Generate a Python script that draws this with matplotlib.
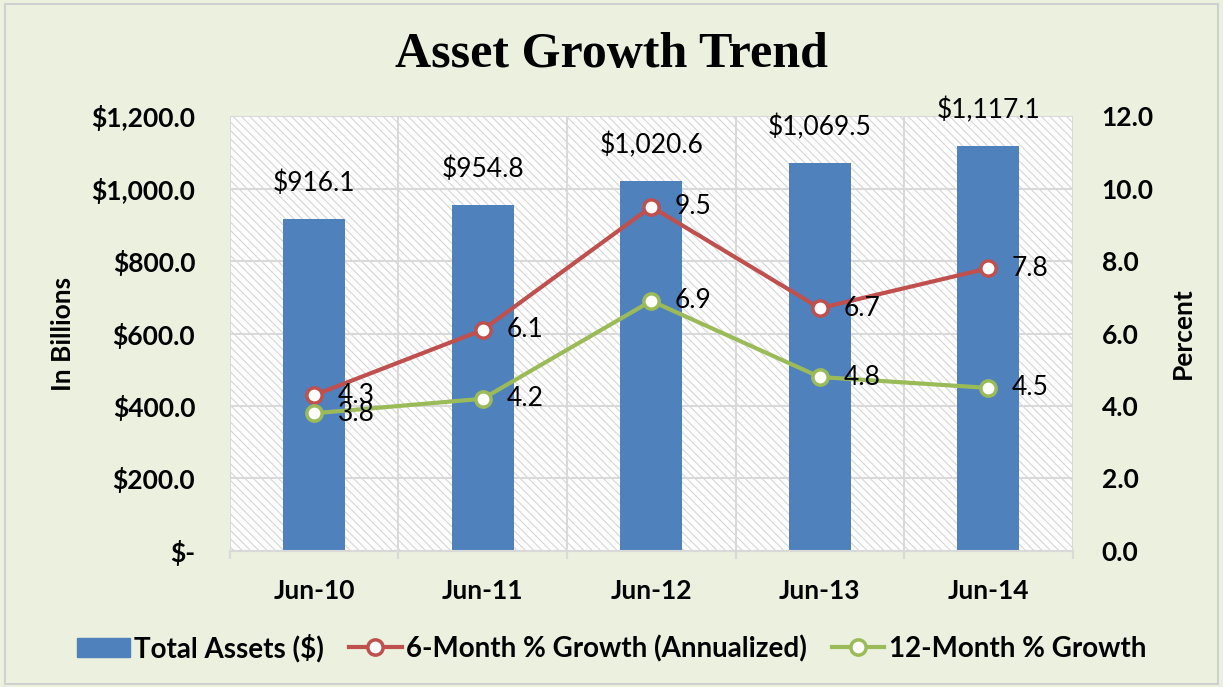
import matplotlib.pyplot as plt
from matplotlib.patches import Rectangle
from matplotlib.lines import Line2D
import numpy as np

# chart data
periods = ['Jun-10', 'Jun-11', 'Jun-12', 'Jun-13', 'Jun-14']
total_assets = [916.1, 954.8, 1020.6, 1069.5, 1117.1]
growth_6m = [4.3, 6.1, 9.5, 6.7, 7.8]
growth_12m = [3.8, 4.2, 6.9, 4.8, 4.5]

blue = '#4F81BD'
red = '#C0504D'
green = '#9BBB59'
bg = '#EBF1DE'
grid_col = '#D9D9D9'
sans = ['Lato', 'DejaVu Sans']
fs = 19

plt.rcParams['hatch.linewidth'] = 0.8

fig = plt.figure(figsize=(12.23, 6.87), dpi=100, facecolor=bg)
fig.patches.append(Rectangle((0.004, 0.004), 0.992, 0.99, transform=fig.transFigure,
                             fill=False, edgecolor='#D0D0D0', linewidth=1.5))

ax = fig.add_axes([0.188, 0.198, 0.689, 0.633])
ax.set_facecolor('white')
ax.add_patch(Rectangle((0, 0), 1, 1, transform=ax.transAxes, facecolor='none',
                       edgecolor='#D6D6D6', hatch='\\\\\\\\', linewidth=0, zorder=0))

x = np.arange(len(periods))
ax.bar(x, total_assets, width=0.37, color=blue, zorder=2)
for xi, v in zip(x, total_assets):
    ax.annotate(f'${v:,.1f}', (xi, v), xytext=(0, 26), textcoords='offset points',
                ha='center', va='center', fontsize=fs, family=sans)

ax.set_xlim(-0.5, len(periods) - 0.5)
ax.set_ylim(0, 1200)
ax.set_yticks(np.arange(0, 1201, 200))
ax.set_yticklabels(['$-'] + [f'${v:,.1f}' for v in np.arange(200, 1201, 200)])
ax.set_xticks(x)
ax.set_xticklabels(periods)
ax.set_xticks(np.arange(-0.5, len(periods), 1), minor=True)
ax.grid(axis='y', color=grid_col, linewidth=1.5, zorder=1)
ax.grid(axis='x', which='minor', color=grid_col, linewidth=1.5, zorder=1)
ax.set_axisbelow(True)
ax.tick_params(axis='x', which='major', length=0, pad=20)
ax.tick_params(axis='x', which='minor', length=6, color=grid_col, width=1.5)
ax.tick_params(axis='y', length=0, pad=25)
for lab in ax.get_xticklabels() + ax.get_yticklabels():
    lab.set_fontfamily(sans)
    lab.set_fontweight('bold')
    lab.set_fontsize(fs)
for s in ['left', 'right', 'top']:
    ax.spines[s].set_visible(False)
ax.spines['bottom'].set_color(grid_col)
ax.spines['bottom'].set_linewidth(1.5)
ax.set_ylabel('In Billions', fontsize=fs, fontweight='bold', family=sans, labelpad=12)

ax2 = ax.twinx()
ax2.set_ylim(0, 12)
ax2.set_yticks(np.arange(0, 12.1, 2))
ax2.set_yticklabels([f'{v:.1f}' for v in np.arange(0, 12.1, 2)])
ax2.tick_params(axis='y', length=0, pad=21)
for lab in ax2.get_yticklabels():
    lab.set_fontfamily(sans)
    lab.set_fontweight('bold')
    lab.set_fontsize(fs)
for s in ax2.spines.values():
    s.set_visible(False)
ax2.set_ylabel('Percent', fontsize=fs, fontweight='bold', family=sans, labelpad=12)

ax2.plot(x, growth_6m, color=red, linewidth=3, marker='o', markersize=11,
         markerfacecolor='white', markeredgewidth=2.5, zorder=3)
ax2.plot(x, growth_12m, color=green, linewidth=3, marker='o', markersize=11,
         markerfacecolor='white', markeredgewidth=2.5, zorder=3)
for series in (growth_6m, growth_12m):
    for xi, v in zip(x, series):
        ax2.annotate(f'{v:.1f}', (xi, v), xytext=(17, 0), textcoords='offset points',
                     ha='left', va='center', fontsize=fs, family=sans, zorder=4)

fig.text(0.5, 0.92, 'Asset Growth Trend', ha='center', va='center', fontsize=36,
         fontweight='bold', family=['Liberation Serif', 'DejaVu Serif'])

handles = [
    Rectangle((0, 0), 1, 1, color=blue),
    Line2D([], [], color=red, linewidth=3, marker='o', markersize=11,
           markerfacecolor='white', markeredgewidth=2.5),
    Line2D([], [], color=green, linewidth=3, marker='o', markersize=11,
           markerfacecolor='white', markeredgewidth=2.5),
]
labels = ['Total Assets ($)', '6-Month % Growth (Annualized)', '12-Month % Growth']
fig.legend(handles, labels, loc='center', bbox_to_anchor=(0.5, 0.057), ncol=3,
           frameon=False, prop={'family': sans, 'weight': 'bold', 'size': 20},
           handlelength=1.9, handletextpad=0.15, columnspacing=0.9)

fig.savefig('out.png', dpi=100, facecolor=bg)
